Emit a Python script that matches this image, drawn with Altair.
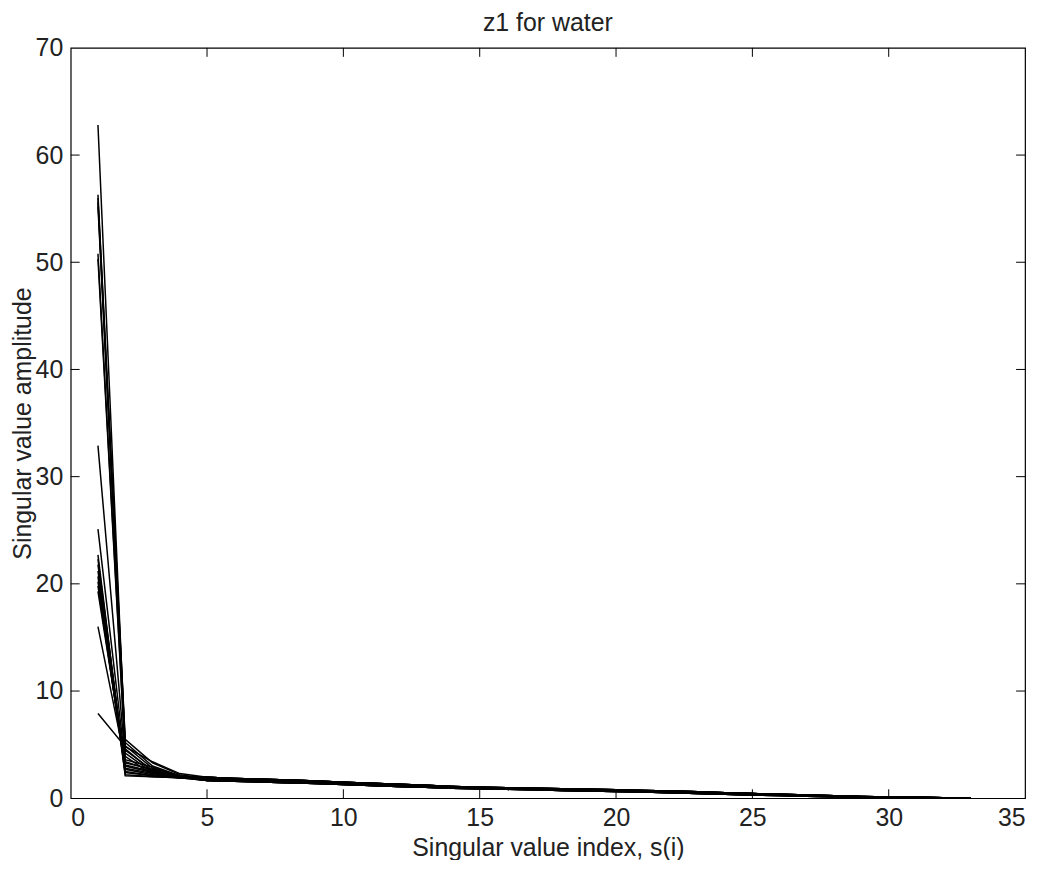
import altair as alt
import pandas as pd

# values at singular value index 1..4 for each curve
s1 = [62.8, 56.3, 56.0, 55.6, 55.2, 50.8, 50.3, 32.9, 25.1, 22.7, 22.3, 21.8,
      21.2, 20.7, 20.2, 19.8, 19.3, 16.0, 7.9]
s2 = [4.5, 5.5, 5.2, 4.9, 4.6, 4.2, 3.9, 3.6, 3.3, 2.1, 2.4, 2.7,
      3.0, 2.2, 2.5, 2.8, 3.1, 3.4, 4.8]
s3 = [2.6, 3.3, 3.0, 2.8, 2.5, 2.4, 2.2, 2.9, 2.7, 2.0, 2.1, 2.2,
      2.4, 2.0, 2.1, 2.3, 2.5, 2.6, 3.4]
s4 = [2.0, 2.2, 2.1, 2.1, 2.0, 2.0, 1.9, 2.0, 2.0, 1.9, 1.9, 1.9,
      2.0, 1.9, 1.9, 1.9, 2.0, 2.0, 2.3]

# tails for indices 5..33
tail_index = list(range(5, 34))
tail_upper = [1.95, 1.85, 1.78, 1.70, 1.60, 1.50, 1.40, 1.30, 1.20, 1.10, 1.03,
              0.98, 0.93, 0.88, 0.83, 0.78, 0.73, 0.67, 0.60, 0.52, 0.44, 0.36,
              0.29, 0.23, 0.17, 0.12, 0.08, 0.05, 0.02]
tail_mid = [1.80, 1.72, 1.65, 1.57, 1.48, 1.38, 1.28, 1.19, 1.10, 1.02, 0.95,
            0.90, 0.85, 0.80, 0.75, 0.70, 0.65, 0.59, 0.52, 0.45, 0.38, 0.31,
            0.25, 0.19, 0.14, 0.10, 0.06, 0.04, 0.01]
tail_lower = [1.65, 1.58, 1.52, 1.45, 1.37, 1.28, 1.19, 1.10, 1.02, 0.94, 0.88,
              0.83, 0.78, 0.73, 0.68, 0.63, 0.57, 0.51, 0.45, 0.38, 0.31, 0.25,
              0.19, 0.14, 0.10, 0.07, 0.04, 0.02, 0.0]
tails = [tail_upper, tail_mid, tail_lower]

x_ticks = [5, 10, 15, 20, 25, 30]
y_ticks = [10, 20, 30, 40, 50, 60]

rows = []
for k in range(len(s1)):
    head = [s1[k], s2[k], s3[k], s4[k]]
    for i, v in enumerate(head):
        rows.append({"curve": k, "idx": i + 1, "val": v})
    t = tails[k % 3]
    for i, v in zip(tail_index, t):
        rows.append({"curve": k, "idx": i, "val": v})
df = pd.DataFrame(rows)

W, H = 959, 754
TL = 9
FS = 25
FONT = "Liberation Sans"
TXT = "#222"

xs = alt.Scale(domain=[0, 35], nice=False, zero=False)
ys = alt.Scale(domain=[0, 70], nice=False, zero=False)

lines = alt.Chart(df).mark_line(color="black", strokeWidth=1.5, clip=True).encode(
    x=alt.X("idx:Q", scale=xs,
            axis=alt.Axis(title="Singular value index, s(i)", values=[0, 5, 10, 15, 20, 25, 30, 35],
                          tickSize=0, domain=False, grid=False, labelPadding=7,
                          labelFontSize=FS, titleFontSize=FS, titlePadding=6,
                          labelFont=FONT, titleFont=FONT,
                          labelColor=TXT, titleColor=TXT, titleFontWeight="normal")),
    y=alt.Y("val:Q", scale=ys,
            axis=alt.Axis(title="Singular value amplitude", values=[0, 10, 20, 30, 40, 50, 60, 70],
                          tickSize=0, domain=False, grid=False, labelPadding=8,
                          labelFontSize=FS, titleFontSize=FS, titlePadding=0,
                          labelFont=FONT, titleFont=FONT,
                          labelColor=TXT, titleColor=TXT, titleFontWeight="normal")),
    detail="curve:N",
)

xt = pd.DataFrame({"v": x_ticks})
yt = pd.DataFrame({"v": y_ticks})

bottom = alt.Chart(xt).mark_rule(color="black", strokeWidth=1).encode(
    x=alt.X("v:Q", scale=xs), y=alt.value(H), y2=alt.value(H - TL))
top = alt.Chart(xt).mark_rule(color="black", strokeWidth=1).encode(
    x=alt.X("v:Q", scale=xs), y=alt.value(0), y2=alt.value(TL))
left = alt.Chart(yt).mark_rule(color="black", strokeWidth=1).encode(
    y=alt.Y("v:Q", scale=ys), x=alt.value(0), x2=alt.value(TL))
right = alt.Chart(yt).mark_rule(color="black", strokeWidth=1).encode(
    y=alt.Y("v:Q", scale=ys), x=alt.value(W), x2=alt.value(W - TL))

chart = alt.layer(lines, bottom, top, left, right).properties(
    width=W, height=H,
    title=alt.TitleParams("z1 for water", fontSize=FS, font=FONT,
                          fontWeight="normal", color=TXT, offset=0),
    autosize=alt.AutoSizeParams(type="none"),
    padding={"left": 63, "top": 38, "right": 10, "bottom": 60},
    background="white",
).configure_view(stroke="black", strokeWidth=1.2)

chart.save("out.html", embed_options={"renderer": "svg", "actions": False})
